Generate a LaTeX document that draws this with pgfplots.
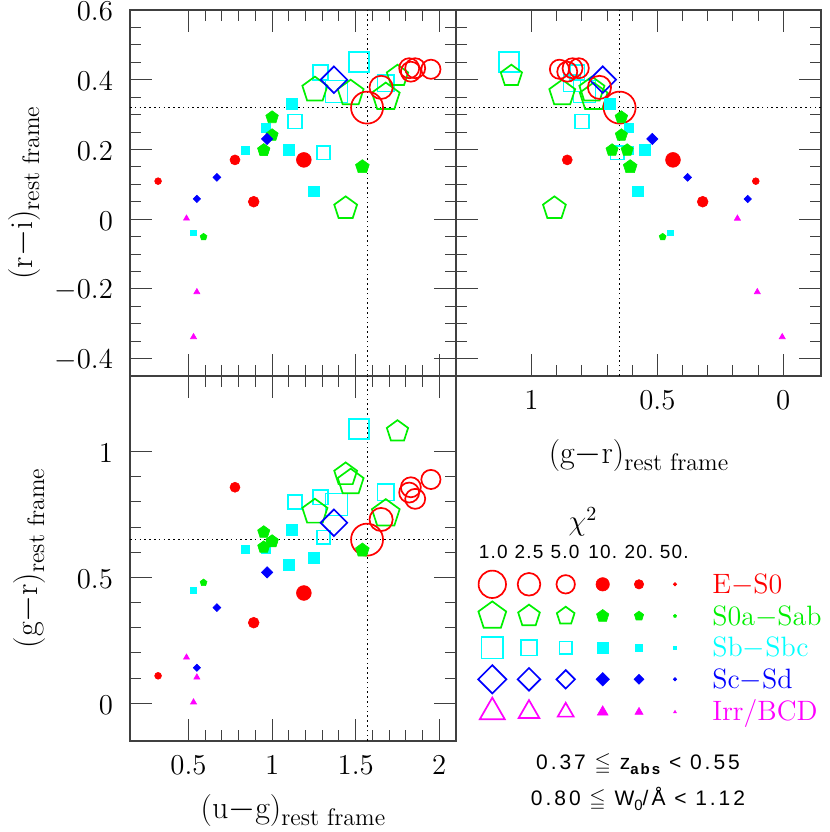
\documentclass[border=0pt]{standalone}
\usepackage{amssymb}
\usepackage{fontspec}
\usepackage{pgfplots}
\pgfplotsset{compat=1.18}
\usepackage{pgfplotstable}
\newfontfamily\pgsans[LetterSpace=6]{Liberation Sans}
\newfontfamily\pgsansw[LetterSpace=14]{Liberation Sans}

\definecolor{rd}{RGB}{255,0,0}
\definecolor{gn}{RGB}{0,240,0}
\definecolor{cy}{RGB}{0,255,255}
\definecolor{bl}{RGB}{0,0,255}
\definecolor{mg}{RGB}{255,0,255}

% columns: (u-g), (g-r), (r-i), mark size in pt
\pgfplotstableread{
ug gr ri s
1.568 0.650 0.320 8.0
1.652 0.730 0.378 5.8
1.820 0.837 0.433 5.0
1.830 0.858 0.423 5.0
1.856 0.812 0.433 5.0
1.950 0.889 0.430 4.8
}\redo
\pgfplotstableread{
ug gr ri s
0.318 0.109 0.109 1.7
0.778 0.858 0.170 2.5
0.890 0.320 0.050 2.7
1.190 0.438 0.170 3.7
}\redf
\pgfplotstableread{
ug gr ri s
1.256 0.760 0.371 6.6
1.440 0.909 0.031 6.0
1.470 0.878 0.361 6.8
1.680 0.753 0.350 7.3
1.750 1.080 0.411 5.6
}\greo
\pgfplotstableread{
ug gr ri s
0.590 0.479 -0.051 1.8
0.950 0.680 0.198 3.2
0.950 0.620 0.198 3.2
1.000 0.643 0.241 3.2
1.000 0.643 0.292 3.3
1.540 0.608 0.150 3.6
}\gref
\pgfplotstableread{
ug gr ri s
1.136 0.800 0.280 3.5
1.290 0.819 0.420 3.7
1.306 0.660 0.190 3.3
1.386 0.790 0.366 5.5
1.520 1.090 0.450 5.0
1.680 0.839 0.390 4.2
}\cyao
\pgfplotstableread{
ug gr ri s
0.530 0.449 -0.039 1.4
0.840 0.610 0.198 2.0
0.960 0.612 0.261 2.2
1.098 0.551 0.200 2.7
1.120 0.690 0.330 2.7
1.250 0.579 0.080 2.7
}\cyaf
\pgfplotstableread{
ug gr ri s
1.370 0.717 0.400 4.7
}\bluo
\pgfplotstableread{
ug gr ri s
0.550 0.141 0.058 1.3
0.670 0.380 0.120 1.4
0.970 0.520 0.230 2.0
}\bluf
\pgfplotstableread{
ug gr ri s
0.488 0.182 0.002 1.75
0.530 0.004 -0.338 1.75
0.550 0.103 -0.209 1.75
}\magf

% legend grid (picture pixels), first three open, last three filled
\pgfplotstableread{
x y s
492.3 584.3 6.85
529.0 584.3 5.65
565.7 584.3 4.6
602.7 584.3 3.35
639.0 584.3 2.35
675.0 584.3 0.85
}\legE
\pgfplotstableread{
x y s
492.3 616.0 7.3
529.0 616.0 5.7
565.7 616.0 4.65
602.7 616.0 3.25
639.0 616.0 2.45
675.0 616.0 0.8
}\legS
\pgfplotstableread{
x y s
492.3 647.7 5.4
529.0 647.7 3.9
565.7 647.7 3.15
602.7 647.7 2.65
639.0 647.7 1.85
675.0 647.7 0.75
}\legB
\pgfplotstableread{
x y s
492.3 679.3 5.0
529.0 679.3 4.0
565.7 679.3 3.25
602.7 679.3 2.37
639.0 679.3 1.77
675.0 679.3 0.6
}\legC
\pgfplotstableread{
x y s
492.3 712.0 7.2
529.0 712.0 5.95
565.7 712.0 4.6
602.7 712.0 3.1
639.0 712.0 2.3
675.0 712.0 0.8
}\legI

\pgfplotsset{
  pts/.style 2 args={scatter, only marks, mark=#1,
    scatter/use mapped color={draw=#2,fill=#2},
    visualization depends on={\thisrow{s}\as\msz},
    scatter/@pre marker code/.append style={/tikz/mark size=\msz}},
  openm/.style={line width=0.85pt},
  fillm/.style={line width=0.3pt},
  panel/.style={scale only axis, clip=false,
    tick pos=both,
    major tick length=11pt, minor tick length=5.5pt,
    every tick/.style={black!75, line width=0.5pt},
    axis line style={black!75, line width=0.6pt},
    tick label style={font=\fontsize{14.5}{17}\selectfont},
    xticklabel style={yshift=-4pt},
    yticklabel style={xshift=-5pt, yshift=-0.8pt, inner ysep=0.5pt},
    label style={font=\fontsize{16}{19}\selectfont}},
  guide/.style={black, line width=0.6pt, dash pattern=on 0.8pt off 1.6pt},
}

\newcommand{\sub}[1]{\raisebox{-3.5pt}{\fontsize{12}{14}\selectfont #1}}

\newcommand{\galaxies}[2]{%
  \addplot[pts={square}{cy}, openm] table[x=#1,y=#2]{\cyao};
  \addplot[pts={pentagon}{gn}, openm] table[x=#1,y=#2]{\greo};
  \addplot[pts={square}{bl}, openm, mark options={rotate=45}] table[x=#1,y=#2]{\bluo};
  \addplot[pts={o}{rd}, openm] table[x=#1,y=#2]{\redo};
  \addplot[pts={square*}{cy}, fillm] table[x=#1,y=#2]{\cyaf};
  \addplot[pts={pentagon*}{gn}, fillm] table[x=#1,y=#2]{\gref};
  \addplot[pts={square*}{bl}, fillm, mark options={rotate=45}] table[x=#1,y=#2]{\bluf};
  \addplot[pts={triangle*}{mg}, fillm] table[x=#1,y=#2]{\magf};
  \addplot[pts={*}{rd}, fillm] table[x=#1,y=#2]{\redf};
}

\begin{document}
\begin{tikzpicture}
% top left: (u-g) vs (r-i)
\begin{axis}[panel, at={(0pt,0pt)}, anchor=south west,
    width=163pt, height=183pt,
    xmin=0.15, xmax=2.1, ymin=-0.45, ymax=0.6,
    xtick={0.5,1,1.5,2}, xticklabels={}, minor x tick num=4,
    ytick={-0.4,-0.2,0,0.2,0.4,0.6}, minor y tick num=3,
    ylabel={(r$-$i)\sub{rest frame}},
    ylabel style={at={(axis description cs:-0.30,0.5)}, anchor=base}]
  \addplot[guide] coordinates {(1.57,-0.45) (1.57,0.6)};
  \addplot[guide] coordinates {(0.15,0.32) (2.1,0.32)};
  \galaxies{ug}{ri}
\end{axis}
% top right: (g-r) vs (r-i)
\begin{axis}[panel, at={(163pt,0pt)}, anchor=south west,
    width=182.5pt, height=183pt, x dir=reverse,
    xmin=-0.15, xmax=1.3, ymin=-0.45, ymax=0.6,
    xtick={0,0.5,1}, minor x tick num=4,
    ytick={-0.4,-0.2,0,0.2,0.4,0.6}, yticklabels={}, minor y tick num=3,
    xlabel={(g$-$r)\sub{rest frame}},
    xlabel style={at={(axis description cs:0.5,-0.24)}, anchor=base}]
  \addplot[guide] coordinates {(0.65,-0.45) (0.65,0.6)};
  \addplot[guide] coordinates {(-0.15,0.32) (1.3,0.32)};
  \galaxies{gr}{ri}
\end{axis}
% bottom left: (u-g) vs (g-r)
\begin{axis}[panel, at={(0pt,0pt)}, anchor=north west,
    width=163pt, height=182.5pt,
    xmin=0.15, xmax=2.1, ymin=-0.15, ymax=1.3,
    xtick={0.5,1,1.5,2}, minor x tick num=4,
    ytick={0,0.5,1}, minor y tick num=4,
    xlabel={(u$-$g)\sub{rest frame}},
    xlabel style={at={(axis description cs:0.5,-0.213)}, anchor=base},
    ylabel={(g$-$r)\sub{rest frame}},
    ylabel style={at={(axis description cs:-0.285,0.5)}, anchor=base}]
  \addplot[guide] coordinates {(1.57,-0.15) (1.57,1.3)};
  \addplot[guide] coordinates {(0.15,0.65) (2.1,0.65)};
  \galaxies{ug}{gr}
\end{axis}
% key, in picture pixels
\begin{axis}[at={(163pt,0pt)}, anchor=north west, scale only axis,
    width=187pt, height=228pt, hide axis, clip=false,
    xmin=456, xmax=830, ymin=376, ymax=832, y dir=reverse]
  \addplot[pts={o}{rd}, openm, skip coords between index={3}{6}] table[x=x,y=y]{\legE};
  \addplot[pts={*}{rd}, fillm, skip coords between index={0}{3}] table[x=x,y=y]{\legE};
  \addplot[pts={pentagon}{gn}, openm, skip coords between index={3}{6}] table[x=x,y=y]{\legS};
  \addplot[pts={pentagon*}{gn}, fillm, skip coords between index={0}{3}] table[x=x,y=y]{\legS};
  \addplot[pts={square}{cy}, openm, skip coords between index={3}{6}] table[x=x,y=y]{\legB};
  \addplot[pts={square*}{cy}, fillm, skip coords between index={0}{3}] table[x=x,y=y]{\legB};
  \addplot[pts={square}{bl}, openm, mark options={rotate=45}, skip coords between index={3}{6}] table[x=x,y=y]{\legC};
  \addplot[pts={square*}{bl}, fillm, mark options={rotate=45}, skip coords between index={0}{3}] table[x=x,y=y]{\legC};
  \addplot[pts={triangle}{mg}, openm, skip coords between index={3}{6}] table[x=x,y=y]{\legI};
  \addplot[pts={triangle*}{mg}, fillm, skip coords between index={0}{3}] table[x=x,y=y]{\legI};
  \node[font=\fontsize{14}{16}\selectfont] at (axis cs:583,522) {$\chi^2$};
  \foreach \xx/\tt in {493.3/1.0, 529/2.5, 565/5.0, 602.7/10., 639/20., 674.3/50.}{
    \edef\tmp{\noexpand\node[anchor=base, inner sep=0pt, font=\noexpand\pgsans\noexpand\fontsize{9.5}{11}\noexpand\selectfont] at (axis cs:\xx,558.3) {\tt};}\tmp
  }
  \begin{scope}[every node/.style={anchor=base west, inner sep=0pt, font=\fontsize{14}{16}\selectfont}]
  \node[text=rd] at (axis cs:712,593.3) {E$-$S0};
  \node[text=gn] at (axis cs:712,625) {S0a$-$Sab};
  \node[text=cy] at (axis cs:712,656.7) {Sb$-$Sbc};
  \node[text=bl] at (axis cs:712,688.3) {Sc$-$Sd};
  \node[text=mg] at (axis cs:712,720) {Irr/BCD};
  \end{scope}
  \node[anchor=base, inner sep=0pt, font=\pgsansw\fontsize{10.5}{12}\selectfont] at (axis cs:638,769.3)
    {0.37 $\leqq$ z\raisebox{-2.5pt}{\fontsize{7.5}{8}\selectfont\bfseries abs} < 0.55};
  \node[anchor=base, inner sep=0pt, font=\pgsansw\fontsize{10.5}{12}\selectfont] at (axis cs:638,805)
    {0.80 $\leqq$ W\raisebox{-2.5pt}{\fontsize{7.5}{8}\selectfont 0}/Å < 1.12};
\end{axis}
\pgfresetboundingbox
\path[use as bounding box] (-65pt,-228pt) rectangle (350pt,188pt);
\end{tikzpicture}
\end{document}
